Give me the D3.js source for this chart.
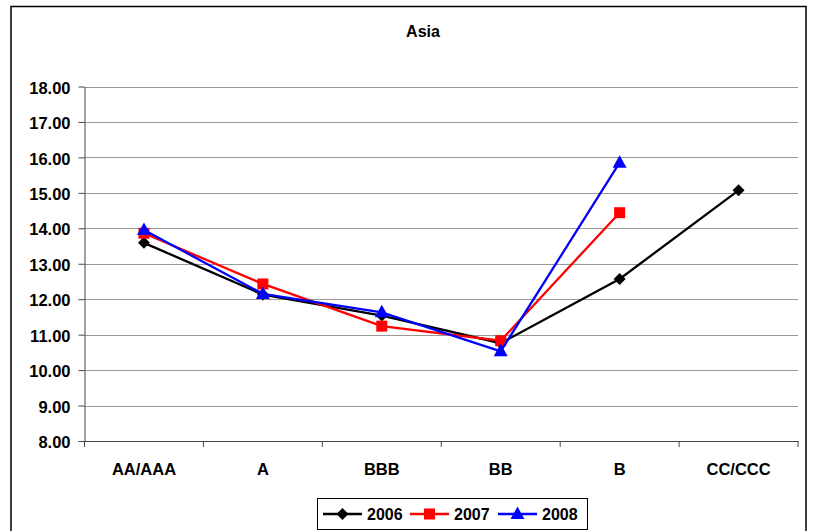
<!DOCTYPE html>
<html><head><meta charset="utf-8">
<script src="https://cdn.jsdelivr.net/npm/d3@7"></script>
<style>body{margin:0;background:#fff;} svg{display:block;font-family:"Liberation Sans",Arial,sans-serif;}</style>
</head><body>
<svg id="c" width="817" height="531"></svg>
<script>
const categories = ["AA/AAA","A","BBB","BB","B","CC/CCC"];
const s2006 = [13.59, 12.13, 11.54, 10.76, 12.57, 15.07];
const s2007 = [13.86, 12.43, 11.24, 10.83, 14.44, null];
const s2008 = [13.95, 12.15, 11.63, 10.53, 15.85, null];
const yTicks = [8,9,10,11,12,13,14,15,16,17,18];
const seriesNames = ["2006","2007","2008"];

const series = [
  {name:seriesNames[0], values:s2006, color:"#000000", marker:"diamond"},
  {name:seriesNames[1], values:s2007, color:"#ff0000", marker:"square"},
  {name:seriesNames[2], values:s2008, color:"#0000ff", marker:"triangle"}
];

const FF = "Liberation Sans, Arial, sans-serif";
const svg = d3.select("#c");
// outer border
svg.append("rect").attr("x",11).attr("y",6.5).attr("width",795).attr("height",540)
  .attr("fill","none").attr("stroke","#000").attr("stroke-width",1.5);

const L=84.5, R=798, T=86.5, B=441;
const x = d3.scaleBand().domain(categories).range([L,R]);
const y = d3.scaleLinear().domain([8,18]).range([B,T]);

svg.append("text").attr("x",423).attr("y",36.7).attr("text-anchor","middle")
  .attr("font-weight","bold").attr("font-size",16).attr("font-family",FF).text("Asia");

// gridlines
svg.append("g").selectAll("line").data(yTicks.filter(d=>d>8)).join("line")
  .attr("x1",L).attr("x2",R).attr("y1",d=>Math.round(y(d))+0.5).attr("y2",d=>Math.round(y(d))+0.5)
  .attr("stroke","#999").attr("stroke-width",1);

// y axis
const ya = svg.append("g").attr("transform",`translate(${L},0)`)
  .call(d3.axisLeft(y).tickValues(yTicks).tickFormat(d3.format(".2f")).tickSize(6).tickSizeOuter(0));
ya.select(".domain").attr("stroke","#444");
ya.selectAll(".tick line").attr("stroke","#444");
ya.selectAll(".tick text").attr("font-size",16.5).attr("font-weight","bold").attr("font-family",FF).attr("fill","#000").attr("x",-14).attr("dy","0.4em");

// x axis
const xa = svg.append("g").attr("transform",`translate(0,${B})`)
  .call(d3.axisBottom(x).tickSize(0).tickSizeOuter(0));
xa.select(".domain").attr("stroke","#444");
xa.selectAll(".tick text").attr("font-size",16.5).attr("font-weight","bold").attr("font-family",FF).attr("fill","#000").attr("y",34).attr("dy",0);
// boundary ticks
const bounds = categories.map(c=>x(c)).concat([R]);
svg.append("g").selectAll("line").data(bounds).join("line")
  .attr("x1",d=>d).attr("x2",d=>d).attr("y1",B).attr("y2",B+6).attr("stroke","#444");

const cx = c=>x(c)+x.bandwidth()/2;
function markerPath(m){
  if(m==="diamond") return "M0,-6L6,0L0,6L-6,0Z";
  if(m==="square") return "M-5.5,-5.5H5.5V5.5H-5.5Z";
  return "M0,-7.5L7,5H-7Z";
}

series.forEach(s=>{
  const pts = categories.map((c,i)=>({c, v:s.values[i]})).filter(p=>p.v!=null);
  svg.append("path").datum(pts)
    .attr("d", d3.line().x(p=>cx(p.c)).y(p=>y(p.v)))
    .attr("fill","none").attr("stroke",s.color).attr("stroke-width",2.3);
  svg.append("g").selectAll("path").data(pts).join("path")
    .attr("transform",p=>`translate(${cx(p.c)},${y(p.v)})`)
    .attr("d",markerPath(s.marker)).attr("fill",s.color);
});

// legend
const lg = svg.append("g");
lg.append("rect").attr("x",317.5).attr("y",498.5).attr("width",270).attr("height",31)
  .attr("fill","#fff").attr("stroke","#000").attr("stroke-width",1);
const lx = [323, 410, 498];
series.forEach((s,i)=>{
  const g = lg.append("g").attr("transform",`translate(${lx[i]},514)`);
  g.append("line").attr("x1",0).attr("x2",39).attr("stroke",s.color).attr("stroke-width",2.3);
  g.append("path").attr("transform","translate(19.5,0)").attr("d",markerPath(s.marker)).attr("fill",s.color);
  g.append("text").attr("x",44).attr("y",5.5).attr("font-size",16).attr("font-weight","bold").attr("font-family",FF).text(s.name);
});
</script>
</body></html>
